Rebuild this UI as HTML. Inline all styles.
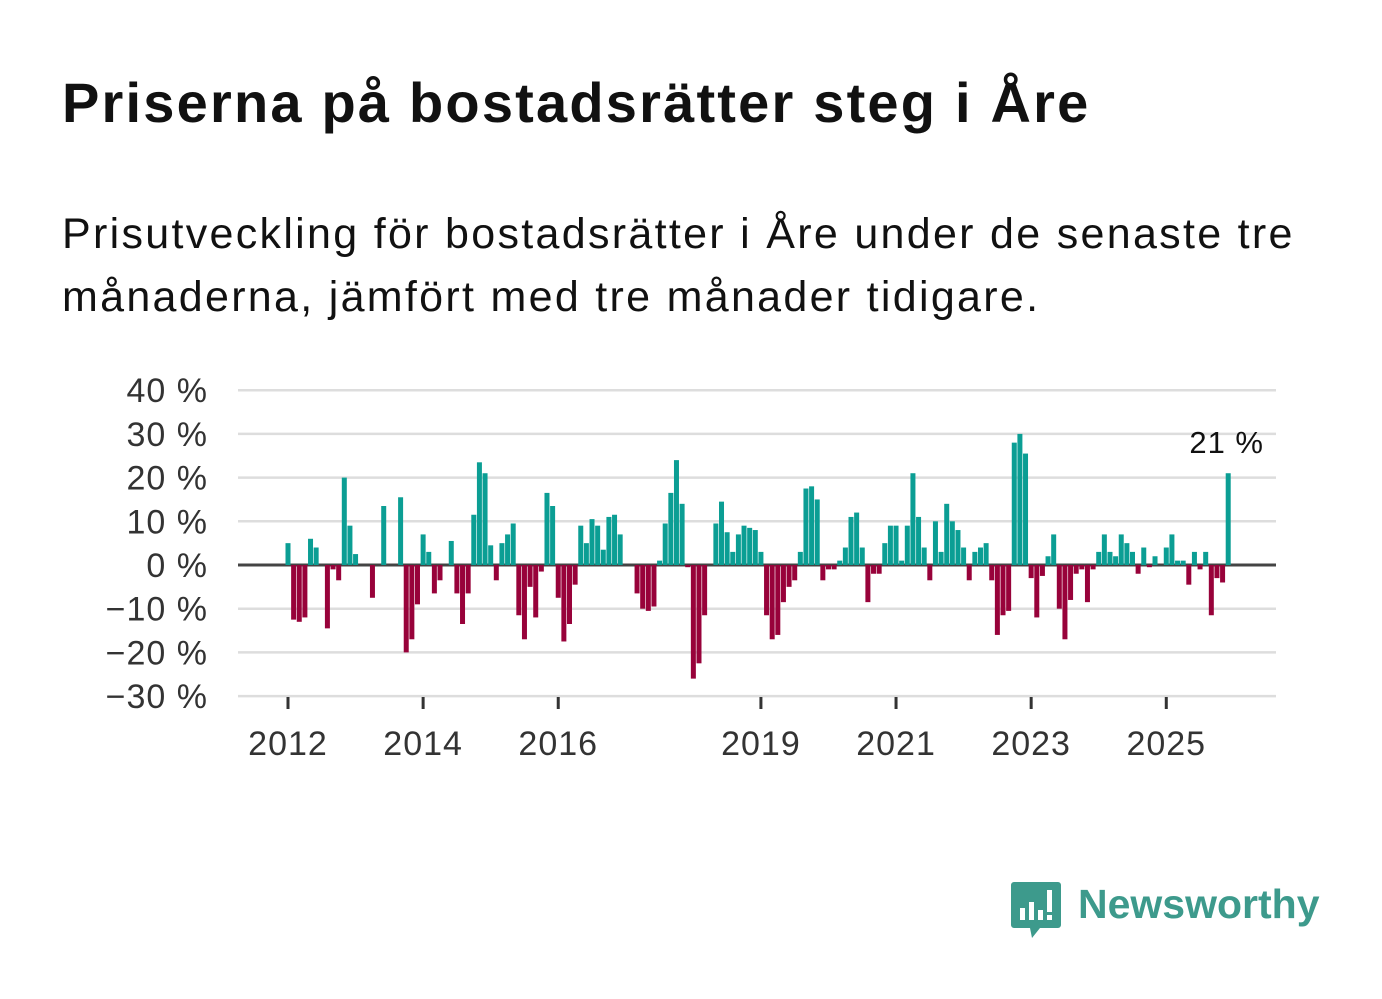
<!DOCTYPE html>
<html><head><meta charset="utf-8"><style>
body{margin:0;background:#fff;width:1382px;height:999px;overflow:hidden;font-family:"Liberation Sans","DejaVu Sans",sans-serif}
h1{position:absolute;left:62px;top:70px;margin:0;font-size:56px;font-weight:bold;color:#111;letter-spacing:2.2px}
p{position:absolute;left:62px;top:203px;margin:0;font-size:43px;line-height:63px;color:#111;width:1300px;letter-spacing:2.3px}
</style></head><body>
<h1>Priserna på bostadsrätter steg i Åre</h1>
<p>Prisutveckling för bostadsrätter i Åre under de senaste tre månaderna, jämfört med tre månader tidigare.</p>
<svg id="chart" width="1382" height="999" style="position:absolute;left:0;top:0"></svg>
<script>
const values=[5,-12.5,-13,-12,6,4,0,-14.5,-1,-3.5,20,9,
2.5,0,0,-7.5,0,13.5,0,0,15.5,-20,-17,-9,
7,3,-6.5,-3.5,0,5.5,-6.5,-13.5,-6.5,11.5,23.5,21,
4.5,-3.5,5,7,9.5,-11.5,-17,-5,-12,-1.5,16.5,13.5,
-7.5,-17.5,-13.5,-4.5,9,5,10.5,9,3.5,11,11.5,7,
0,0,-6.5,-10,-10.5,-9.5,1,9.5,16.5,24,14,-0.5,
-26,-22.5,-11.5,0,9.5,14.5,7.5,3,7,9,8.5,8,
3,-11.5,-17,-16,-8.5,-5,-3.5,3,17.5,18,15,-3.5,
-1,-1,1,4,11,12,4,-8.5,-2,-2,5,9,
9,1,9,21,11,4,-3.5,10,3,14,10,8,
4,-3.5,3,4,5,-3.5,-16,-11.5,-10.5,28,30,25.5,
-3,-12,-2.5,2,7,-10,-17,-8,-2,-1,-8.5,-1,
3,7,3,2,7,5,3,-2,4,-0.5,2,0,
4,7,1,1,-4.5,3,-1,3,-11.5,-3,-4,21];
const yTicks=[40,30,20,10,0,-10,-20,-30];
const xTickYears=[2012,2014,2016,2019,2021,2023,2025];
const startYear=2012;
const lastLabel="21 %";
const NS="http://www.w3.org/2000/svg";
const svg=document.getElementById('chart');
const y=v=>565-v*4.37;
const x=i=>288+i*5.63;
function mk(t,a){const e=document.createElementNS(NS,t);for(const k in a)e.setAttribute(k,a[k]);svg.appendChild(e);return e;}
yTicks.forEach(v=>{
 const l=mk('line',{x1:238,x2:1276,y1:y(v),y2:y(v),stroke:v===0?'#444':'#ddd','stroke-width':v===0?3:2.5});
 
 
 const t=mk('text',{x:208,y:y(v)+12,'text-anchor':'end','font-size':34,fill:'#333','letter-spacing':1});
 t.textContent=(v<0?'\u2212'+(-v):v)+' %';
 
 
});
values.forEach((v,i)=>{
 const r=mk('rect',{x:x(i)-2.5,y:Math.min(y(v),y(0)),width:5,height:Math.abs(y(v)-y(0)),fill:v>=0?'#0b9e94':'#98023a'});
 
 
});
xTickYears.forEach(yr=>{
 const i=(yr-startYear)*12;
 const l=mk('line',{x1:x(i),x2:x(i),y1:697,y2:709,stroke:'#333','stroke-width':3});
 
 
 const t=mk('text',{x:x(i),y:755,'text-anchor':'middle','font-size':34,fill:'#333','letter-spacing':1});
 t.textContent=yr;
 
 
});
const ann=mk('text',{x:1264,y:453,'text-anchor':'end','font-size':31,fill:'#111','letter-spacing':1});
ann.textContent=lastLabel;


</script>
<div style="position:absolute;left:1010px;top:878px;width:320px;height:64px">
 <svg width="52" height="62" style="position:absolute;left:0;top:2px"><path d="M4 2h44a3 3 0 0 1 3 3v40a3 3 0 0 1-3 3H30l-8 10l-2-10H4a3 3 0 0 1-3-3V5a3 3 0 0 1 3-3z" fill="#3d9a8c"/><rect x="10" y="28" width="5" height="12" fill="#fff"/><rect x="19" y="22" width="5" height="18" fill="#fff"/><rect x="28" y="30" width="5" height="10" fill="#fff"/><rect x="37" y="10" width="5" height="22" fill="#fff"/><rect x="37" y="35" width="5" height="5" fill="#fff"/></svg>
 <span style="position:absolute;left:68px;top:3px;font-size:41px;font-weight:bold;color:#3d9a8c">Newsworthy</span>
</div>
</body></html>
